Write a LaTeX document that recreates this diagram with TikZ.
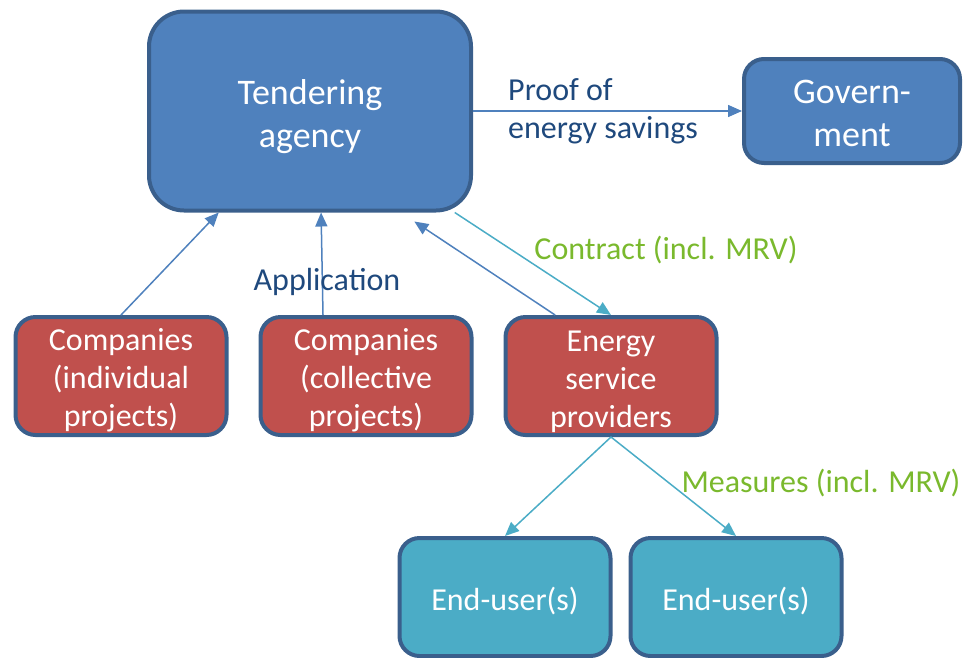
\documentclass[tikz,border=0pt]{standalone}
\usepackage{fontspec}
\setmainfont{Carlito}
\usetikzlibrary{arrows.meta,calc}
\definecolor{boxedge}{HTML}{3A5F8C}
\definecolor{agencyfill}{HTML}{4F81BD}
\definecolor{firmfill}{HTML}{C0504D}
\definecolor{userfill}{HTML}{4BACC6}
\definecolor{labelblue}{HTML}{1F497D}
\definecolor{labelgreen}{HTML}{7AB92D}
\newcommand{\lift}[1][0.98em]{\rule{0pt}{#1}}
\tikzset{
	actor/.style={
			draw=boxedge, line width=4pt, rounded corners=20pt,
			minimum width=211pt, minimum height=118pt, inner sep=0pt,
			align=center, text=white, font=\fontsize{32}{38}\selectfont},
	bluelink/.style={draw=agencyfill, line width=1.5pt, -{Triangle[length=14pt,width=12pt]}},
	teallink/.style={draw=userfill, line width=1.5pt, -{Triangle[length=14pt,width=12pt]}},
	flowtext/.style={inner sep=0pt, font=\fontsize{32}{38}\selectfont}
}

\begin{document}
\begin{tikzpicture}[x=1pt, y=-1pt]
	\useasboundingbox (0,0) rectangle (963,657);
	% top row
	\node[actor, fill=agencyfill, rounded corners=35pt, minimum width=322pt, minimum height=199pt,
		font=\fontsize{36}{43}\selectfont] (agency) at (310,111) {\lift Tendering\\agency};
	\node[actor, fill=agencyfill, minimum width=216pt, minimum height=104pt,
		font=\fontsize{36}{43}\selectfont] (gov) at (852,111) {\lift[0.8em]Govern-\\ment};
	% applicants
	\node[actor, fill=firmfill] (coind) at (121,376) {\lift Companies\\(individual\\projects)};
	\node[actor, fill=firmfill] (coll) at (366,376) {\lift Companies\\(collective\\projects)};
	\node[actor, fill=firmfill] (esp) at (611,376) {\lift Energy\\service\\providers};
	% end users
	\node[actor, fill=userfill] (userA) at (505,597) {\lift End-user(s)};
	\node[actor, fill=userfill] (userB) at (736,597) {\lift End-user(s)};

	\draw[bluelink] (agency.east) -- (gov.west);
	\draw[bluelink] (coind.north) -- ($(agency.south west)!0.22!(agency.south east)$);
	\draw[bluelink] ($(coll.north west)!0.30!(coll.north east)$) -- ($(agency.south west)!0.534!(agency.south east)$);
	\draw[bluelink] ($(esp.north west)!0.24!(esp.north east)$) -- ($(agency.south west)!0.82!(agency.south east)+(0,9)$);
	\draw[teallink] ($(agency.south west)!0.944!(agency.south east)$) -- (esp.north);
	\draw[teallink] (esp.south) -- (userA.north);
	\draw[teallink] (esp.south) -- (userB.north);

	\node[flowtext, text=labelblue, anchor=west, align=left] (proof) at (508,111) {Proof of\\energy savings};
	\node[flowtext, text=labelblue] (apply) at (327,282) {Application};
	\node[flowtext, text=labelgreen] (contract) at (666,250) {Contract (incl. MRV)};
	\node[flowtext, text=labelgreen] (measures) at (821,483) {Measures (incl. MRV)};
\end{tikzpicture}
\end{document}
